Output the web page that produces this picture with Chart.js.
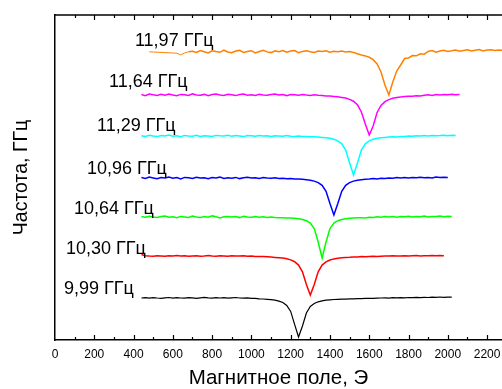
<!DOCTYPE html>
<html>
<head>
<meta charset="utf-8">
<script src="https://cdn.jsdelivr.net/npm/chart.js@4.4.1/dist/chart.umd.min.js"></script>
<style>
  html, body { margin: 0; padding: 0; background: #fff; }
</style>
</head>
<body>
<canvas id="fmrChart" width="502" height="389"></canvas>
<script>
// magnetic field grid, Oe
const field = [
  440, 460, 480, 500, 520, 540, 560, 580, 600, 620,
  640, 660, 680, 700, 720, 740, 760, 780, 800, 820,
  840, 860, 880, 900, 920, 940, 960, 980, 1000, 1020,
  1040, 1060, 1080, 1100, 1120, 1140, 1160, 1180, 1200, 1220,
  1240, 1260, 1280, 1300, 1320, 1340, 1360, 1380, 1400, 1420,
  1440, 1460, 1480, 1500, 1520, 1540, 1560, 1580, 1600, 1620,
  1640, 1660, 1680, 1700, 1720, 1740, 1760, 1780, 1800, 1820,
  1840, 1860, 1880, 1900, 1920, 1940, 1960, 1980, 2000, 2020,
  2040, 2060, 2080, 2100, 2120, 2140, 2160, 2180, 2200, 2220,
  2240, 2260, 2280
];

const freqLabels = ['11,97 ГГц', '11,64 ГГц', '11,29 ГГц', '10,96 ГГц', '10,64 ГГц', '10,30 ГГц', '9,99 ГГц'];
const colors = ['#ff8000', '#ff00ff', '#00ffff', '#0000ff', '#00ff00', '#ff0000', '#000000'];
// vertical offset of each trace, arbitrary units
const baselines = [288, 245, 204, 162, 123, 84, 42];
// index in field[] where each trace starts
const startIdx = [2, 0, 0, 0, 0, 0, 0];

const abs1197 = [
  0.2, 0, -0.2, -0.4, -0.6, -0.8, -1.0, -1.2, -2.8, -1.0, 0.3,
  0.8, -0.5, 1.5, 0.2, -1.0, 1.2, 0.4, -0.3, 1.8, 0,
  -0.8, 1.0, 1.6, -0.4, 0.6, 1.3, -0.9, 0.5, 1.7, 0.1,
  -0.6, 1.1, 0.3, 1.5, -0.2, 0.9, 1.4, -0.7, 0.6, 1.2,
  0.2, -0.5, 1.0, 0.4, 1.3, -0.3, 0.7, 0.2, 0.9, -0.1, 0.4, -0.4,
  -1.8, -3.0, -3.9, -5.3, -7.7, -12, -20, -33, -43, -30,
  -19, -13, -6.5, -6, -3.5, -3.8, -1.8, -2.2,
  0.5, 1.4, -0.2, 1.0, 1.8, 0.6, 1.2, 2.0, 0.8, 1.5,
  2.2, 1.0, 1.7, 2.4, 1.1, 1.9, 2.3, 1.4, 2.1, 1.8
];
const abs1164 = [
  0.5, -0.6, 1.0, 0.2, -0.4, 0.7, -0.2, 0.9, 0, -0.7,
  0.6, 0.3, -0.5, 1.1, 0.1, -0.3, 0.6, -0.8, 0.4, 0.9,
  0, -0.4, 0.8, 0.2, -0.6, 0.5, 1.0, -0.2, 0.3, -0.5,
  0.7, 0.1, -0.3, 0.6, 0.9, -0.1, 0.4, -0.6, 0.5, 0.2,
  -0.2, 0.6, 0, -0.4, 0.3, -0.3, -0.4, -0.9, -1.0, -1.4,
  -1.8, -2.4, -3.1, -4.4, -6.2, -9.8, -17, -29, -40, -31,
  -17.5, -10.5, -6.6, -4.6, -3.3, -2.5, -2.0, -1.6, -1.2, -1.2,
  -0.7, -0.9, -0.3, 0.2, -0.4, 0.4, 0, 0.6, 0.2, 0.8,
  0.3, 0.6
];
const abs1129 = [
  0.3, -0.4, 0.7, 0, -0.6, 0.5, 0.1, 0.9, -0.3, 0.2,
  -0.7, 0.6, 0, -0.2, 0.8, -0.4, 0.3, 0.1, -0.5, 0.6,
  0.2, -0.1, 0.7, -0.3, 0.4, 0, -0.6, 0.5, 0.2, -0.2,
  0.6, -0.1, 0.3, -0.4, 0.2, 0, -0.3, 0.4, -0.2, -0.5,
  -0.1, -0.6, -0.4, -0.8, -0.7, -1.0, -1.4, -1.8, -2.3, -3.3,
  -4.8, -7.8, -14, -27, -39, -27, -14, -7.8, -4.8, -3.3,
  -2.3, -1.8, -1.4, -1.1, -0.8, -0.9, -0.4, -0.6, 0, -0.3,
  0.3, 0, 0.5, 0.1, 0.6, 0.2, 0.4, 0.7, 0.3, 0.8, 0.5
];
const abs1096 = [
  0.4, -0.5, 0.9, 0.1, -0.8, 0.5, 0, 1.0, -0.3, 0.4,
  -0.9, 0.6, 0.2, -0.4, 0.8, -0.1, 0.3, -0.7, 0.5, 0,
  0.9, -0.4, 0.2, -0.2, 0.6, -0.6, 0.3, 0.7, -0.1, 0.2,
  -0.5, 0.4, 0, -0.3, 0.3, -0.6, -0.2, -0.7, -0.5, -1.0,
  -1.0, -1.3, -1.7, -2.2, -3.1, -4.6, -7.4, -13.3, -25.6, -37,
  -25.6, -13.3, -7.4, -4.6, -3.1, -2.2, -1.7, -1.3, -1.0, -0.6,
  -0.9, -0.3, -0.5, 0.1, -0.2, 0.4, 0.1, 0.6, -0.1, 0.5,
  0.2, 0.8, 0.3, 0.6, 0.1, 0.9, 0.4, 0.7, 0.5
];
const abs1064 = [
  0.5, -0.3, 0.8, 0, -0.6, 0.4, 1, -0.2, 0.3, -0.8,
  0.6, 0.1, -0.4, 0.9, 0, -0.5, 0.4, -0.2, 1.1, 0.2,
  -0.9, 0.3, 0.6, -0.1, 0.4, -0.6, 0.8, 0, -0.3, 0.5,
  -0.2, 0.2, -0.5, 0.1, -0.4, -0.8, -0.7, -1.1, -1.0, -1.3,
  -1.8, -2.5, -3.7, -6.1, -11.5, -25, -41, -25, -11.5, -6.1,
  -3.7, -2.5, -1.8, -1.3, -1.0, -0.8, -0.7, -0.9, -0.3, -0.5,
  0.2, -0.2, 0.4, 0, 0.6, -0.3, 0.5, 0.2, 0.8, -0.1,
  0.5, 0.3, 0.9, 0, 0.6, 0.4, 1.0, 0.2, 0.7, 0.5
];
const abs1030 = [
  1.5, 0.3, 0, -0.2, 0.3, 0.1, -0.3, 0.2, 0, 0.4,
  -0.1, 0.2, -0.3, 0, 0.3, -0.2, 0.1, 0.5, 0, -0.2,
  0.2, 0.1, -0.3, 0.3, 0, -0.1, 0.2, -0.2, -0.1, -0.4,
  -0.4, -0.6, -0.8, -1.1, -1.4, -1.7, -2.1, -2.8, -3.9, -5.7,
  -9.1, -15.8, -28.5, -39, -28.5, -15.8, -9.1, -5.9, -4.0, -2.9,
  -2.2, -1.8, -1.5, -1.3, -1.0, -0.9, -0.6, -0.7, -0.4, -0.3,
  -0.5, -0.2, 0, -0.1, 0.2, -0.1, 0.1, 0.3, 0, 0.2,
  0.4, 0.1, 0.3, 0.2, 0.5, 0.3, 0.4, 0.2
];
const abs999 = [
  0, 0.3, -0.2, 0.4, 0, -0.3, 0.2, 0.5, -0.1, 0.3,
  0, -0.2, 0.4, 0.1, -0.3, 0.2, 0.6, 0.1, -0.2, 0.3,
  0, 0.4, -0.1, 0.2, 0.5, 0, -0.2, 0.1, -0.4, -0.3,
  -0.8, -1.0, -1.3, -1.7, -2.2, -3.1, -4.5, -7.4, -13.4, -26.4,
  -39, -28, -15, -8.5, -5.5, -3.8, -2.8, -2.2, -1.8, -1.5,
  -1.3, -1.2, -1.1, -0.9, -0.8, -0.6, -0.7, -0.4, -0.3, -0.4,
  -0.1, 0, 0.2, -0.1, 0.3, 0.2, 0.4, 0.1, 0.5, 0.3,
  0.6, 0.4, 0.7, 0.5, 0.8, 0.6, 1.0, 0.7, 0.9, 0.8
];

const series = [abs1197, abs1164, abs1129, abs1096, abs1064, abs1030, abs999];

const datasets = series.map((vals, k) => ({
    label: freqLabels[k],
    data: vals.map((v, i) => ({ x: field[startIdx[k] + i], y: baselines[k] + v })),
    borderColor: colors[k],
    borderWidth: k === 6 ? 1.2 : 1.5,
    pointRadius: 0,
    tension: 0,
    fill: false,
    segment: k === 0 ? { borderWidth: c => c.p1.parsed.x <= 680 ? 1 : 1.5 } : undefined
}));

// frame on top + inward tick marks, like the original plot
const framePlugin = {
    id: 'frame',
    afterDraw(chart) {
        const { ctx, chartArea: a, scales: { x } } = chart;
        ctx.save();
        ctx.strokeStyle = '#000';
        ctx.lineWidth = 1.5;
        ctx.beginPath();
        ctx.moveTo(a.left, a.top);
        ctx.lineTo(a.right, a.top);
        ctx.stroke();
        ctx.lineWidth = 1.2;
        for (let v = 100; v <= 2200; v += 100) {
            const px = Math.round(x.getPixelForValue(v)) + 0.5;
            const len = v % 200 === 0 ? 5 : 3;
            ctx.beginPath();
            ctx.moveTo(px, a.bottom);
            ctx.lineTo(px, a.bottom - len);
            ctx.moveTo(px, a.top);
            ctx.lineTo(px, a.top + len);
            ctx.stroke();
        }
        ctx.restore();
    }
};

// frequency labels next to each trace
const labelPlugin = {
    id: 'freqLabels',
    afterDatasetsDraw(chart) {
        const { ctx, scales: { x, y } } = chart;
        const anchorX = [407, 275, 214, 163, 97, 56, 46];
        const anchorY = [294, 253, 209, 166, 126, 86, 46];
        ctx.save();
        ctx.fillStyle = '#000';
        ctx.font = '18px "Liberation Sans", Arial, sans-serif';
        ctx.textAlign = 'left';
        ctx.textBaseline = 'alphabetic';
        freqLabels.forEach((t, k) => {
            ctx.fillText(t, x.getPixelForValue(anchorX[k]), y.getPixelForValue(anchorY[k]));
        });
        ctx.restore();
    }
};

Chart.defaults.font.family = '"Liberation Sans", Arial, sans-serif';
Chart.defaults.color = '#000';

new Chart(document.getElementById('fmrChart').getContext('2d'), {
    type: 'line',
    data: { datasets },
    options: {
        responsive: false,
        animation: false,
        devicePixelRatio: 1,
        layout: { padding: { top: 15, left: 0, right: 0, bottom: 0 } },
        plugins: {
            legend: { display: false },
            tooltip: { enabled: false }
        },
        scales: {
            x: {
                type: 'linear',
                min: 0,
                max: 2276,
                ticks: {
                    stepSize: 200, includeBounds: false, autoSkip: false, maxRotation: 0, padding: 7,
                    font: { size: 12 },
                    callback: v => String(v)
                },
                grid: { display: false, drawTicks: false },
                border: { display: true, color: '#000', width: 1.5 },
                title: { display: true, text: 'Магнитное поле, Э', font: { size: 20.5, lineHeight: 1 }, padding: { top: 0, bottom: 0 } },
                afterFit: s => { s.height = 49; s.paddingRight = 0; }
            },
            y: {
                type: 'linear',
                min: 0,
                max: 325,
                ticks: { display: false },
                grid: { display: false, drawTicks: false },
                border: { display: true, color: '#000', width: 1.5 },
                title: { display: true, text: 'Частота, ГГц', font: { size: 19.5, lineHeight: 1 }, padding: { top: 12, bottom: 0 } },
                afterFit: s => { s.width = 55; }
            }
        }
    },
    plugins: [framePlugin, labelPlugin]
});
</script>
</body>
</html>
